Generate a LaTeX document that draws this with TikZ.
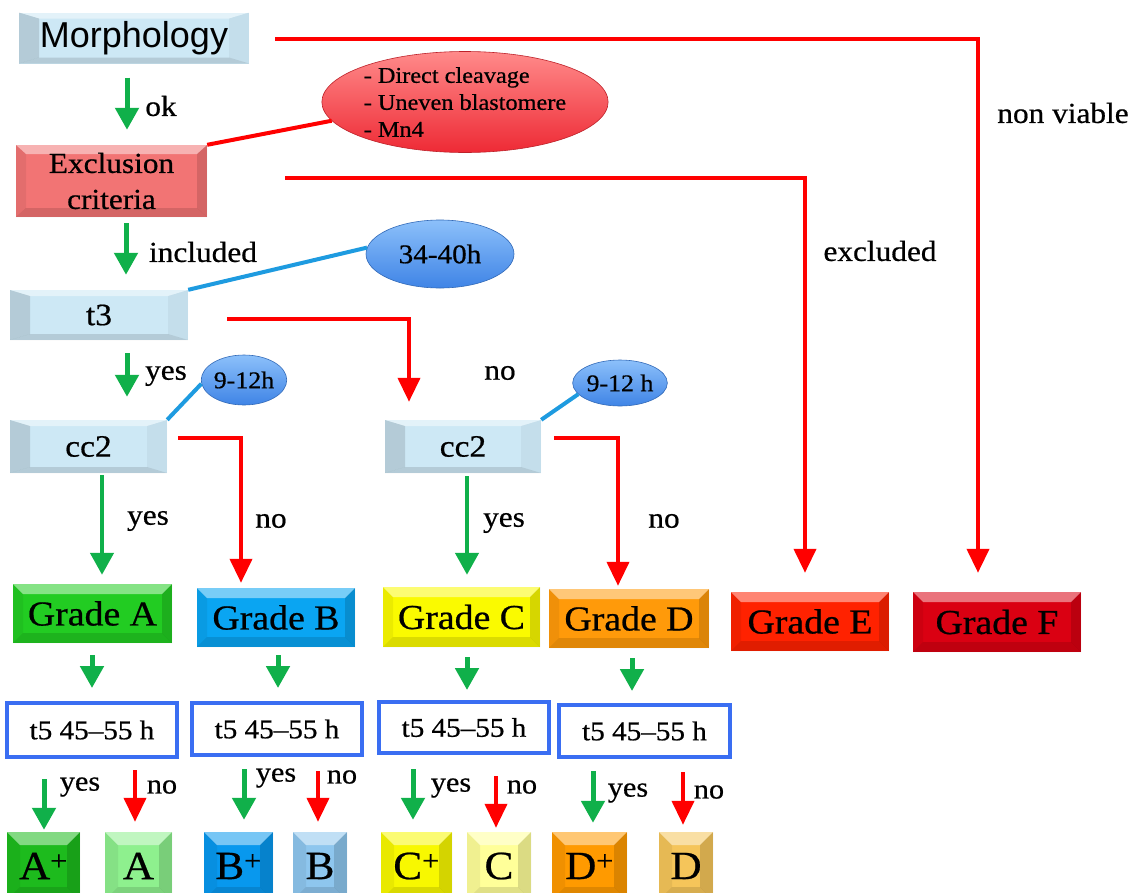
\documentclass[tikz,border=0pt]{standalone}
\usepackage{fontspec}
\setmainfont{Liberation Serif}[FakeStretch=1.08,FakeBold=0.6]
\newfontfamily\sansf{Liberation Sans}
\usetikzlibrary{arrows.meta,shapes.geometric}
\definecolor{lblue}{HTML}{CDE8F5}
\definecolor{exclred}{HTML}{F27474}
\definecolor{cA}{HTML}{22CC22}
\definecolor{cB}{HTML}{0AA5F2}
\definecolor{cC}{HTML}{FAFA00}
\definecolor{cD}{HTML}{FF9A0A}
\definecolor{cE}{HTML}{FF2200}
\definecolor{cF}{HTML}{DA0012}
\definecolor{cAp}{HTML}{1DBB1D}
\definecolor{cAm}{HTML}{8EF08E}
\definecolor{cBp}{HTML}{0898EE}
\definecolor{cBm}{HTML}{8EC6EE}
\definecolor{cCp}{HTML}{F8F800}
\definecolor{cCm}{HTML}{FFFF99}
\definecolor{cDp}{HTML}{FF9A00}
\definecolor{cDm}{HTML}{F5C55A}
\definecolor{garr}{HTML}{10B04A}
\definecolor{rarr}{HTML}{FF0000}
\definecolor{bline}{HTML}{1E9BE0}
\definecolor{t5border}{HTML}{3A6EF2}
\definecolor{ellredtop}{HTML}{FF8A8A}
\definecolor{ellredbot}{HTML}{EE2A35}
\definecolor{ellbluetop}{HTML}{8CC0FA}
\definecolor{ellbluebot}{HTML}{3F84E6}
\tikzset{
  bevel/.style n args={4}{path picture={
    \path (path picture bounding box.north west) coordinate (bvnw)
          (path picture bounding box.north east) coordinate (bvne)
          (path picture bounding box.south west) coordinate (bvsw)
          (path picture bounding box.south east) coordinate (bvse);
    \fill[white,opacity=.45] (bvnw) -- (bvne) -- ([shift={(-#1,-#2)}]bvne) -- ([shift={(#1,-#2)}]bvnw) -- cycle;
    \fill[black,opacity=#3] (bvnw) -- (bvsw) -- ([shift={(#1,#2)}]bvsw) -- ([shift={(#1,-#2)}]bvnw) -- cycle;
    \fill[black,opacity=#4] (bvne) -- (bvse) -- ([shift={(-#1,#2)}]bvse) -- ([shift={(-#1,-#2)}]bvne) -- cycle;
    \fill[black,opacity=.12] (bvsw) -- (bvse) -- ([shift={(-#1,#2)}]bvse) -- ([shift={(#1,#2)}]bvsw) -- cycle;
  }},
  lbbox/.style={fill=lblue, bevel={20pt}{6pt}{.12}{.04}, inner sep=0pt, text=black,
    font=\fontsize{31}{34}\selectfont},
  grade/.style={bevel={10pt}{10pt}{.06}{.14}, inner sep=0pt, text=black,
    font=\fontsize{35}{38}\selectfont},
  small/.style={bevel={13pt}{13pt}{.06}{.14}, inner sep=0pt, text=black, minimum height=68pt,
    font=\fontsize{40}{42}\selectfont},
  t5box/.style={draw=t5border, line width=4pt, fill=white, inner sep=0pt,
    font=\fontsize{27}{29}\selectfont},
  lbl/.style={inner sep=0pt, text=black, font=\fontsize{29}{31}\selectfont},
  slbl/.style={inner sep=0pt, text=black, font=\fontsize{28}{30}\selectfont},
  garrow/.style={draw=garr, line width=5pt, -{Triangle[width=23pt,length=22pt]}},
  rline/.style={draw=rarr, line width=4pt, line join=miter},
  rarrow/.style={rline, -{Triangle[width=22pt,length=24pt]}},
  bconn/.style={draw=bline, line width=4pt},
}
\begin{document}
\begin{tikzpicture}[x=1pt,y=-1pt]
\useasboundingbox (0,0) rectangle (1140,892);
\fill[white] (0,0) rectangle (1140,892);
\clip (0,0) rectangle (1140,892);

% main boxes
\node[lbbox, minimum width=230pt, minimum height=51pt, font=\sansf\fontsize{36}{38}\selectfont] (morph) at (134,38) {Morphology};
\node[fill=exclred, bevel={10pt}{9pt}{.06}{.12}, minimum width=191pt, minimum height=72pt, inner sep=0pt, align=center, font=\fontsize{29}{36}\selectfont] (excl) at (111.5,181) {Exclusion\\criteria};
\node[lbbox, minimum width=178pt, minimum height=50pt] (t3) at (99,315) {t3};
\node[lbbox, minimum width=157pt, minimum height=53pt] (cc2L) at (88.5,446.5) {cc2};
\node[lbbox, minimum width=156pt, minimum height=53pt] (cc2R) at (463,446.5) {cc2};

% ellipses
\node[ellipse, draw=ellredbot!80!black, line width=0.6pt, top color=ellredtop, bottom color=ellredbot, minimum width=256pt, minimum height=101pt, inner sep=0pt, align=left, font=\fontsize{22.5}{27}\selectfont] (crit) at (465,102) {- Direct cleavage\\- Uneven blastomere\\- Mn4};
\node[ellipse, draw=ellbluebot!80!black, line width=0.6pt, top color=ellbluetop, bottom color=ellbluebot, minimum width=148pt, minimum height=68pt, inner sep=0pt, font=\fontsize{27}{29}\selectfont] (e3440) at (440,254) {34-40h};
\node[ellipse, draw=ellbluebot!80!black, line width=0.6pt, top color=ellbluetop, bottom color=ellbluebot, minimum width=81pt, minimum height=50pt, inner sep=0pt, font=\fontsize{24}{26}\selectfont] (eL) at (244,380) {9-12h};
\node[ellipse, draw=ellbluebot!80!black, line width=0.6pt, top color=ellbluetop, bottom color=ellbluebot, minimum width=84pt, minimum height=46pt, inner sep=0pt, font=\fontsize{24}{26}\selectfont] (eR) at (620,383) {9-12 h};

% grade boxes
\node[grade, fill=cA, minimum width=159pt, minimum height=59pt] (gA) at (92.5,613.5) {Grade A};
\node[grade, fill=cB, minimum width=158pt, minimum height=59pt] (gB) at (276,617.5) {Grade B};
\node[grade, fill=cC, minimum width=157pt, minimum height=60pt] (gC) at (461.5,617) {Grade C};
\node[grade, fill=cD, minimum width=160pt, minimum height=59pt] (gD) at (629,618.5) {Grade D};
\node[grade, fill=cE, minimum width=158pt, minimum height=59pt] (gE) at (810,621.5) {Grade E};
\node[grade, fill=cF, minimum width=168pt, minimum height=60pt] (gF) at (997,622) {Grade F};

% t5 boxes
\node[t5box, minimum width=170pt, minimum height=54pt] (t5A) at (92,730) {t5 45--55 h};
\node[t5box, minimum width=170pt, minimum height=52pt] (t5B) at (277,729) {t5 45--55 h};
\node[t5box, minimum width=170pt, minimum height=51pt] (t5C) at (464,727.5) {t5 45--55 h};
\node[t5box, minimum width=171pt, minimum height=52pt] (t5D) at (644.5,731) {t5 45--55 h};

% bottom boxes
\node[small, fill=cAp, minimum width=73pt] (Ap) at (43.5,866) {A\textsuperscript{+}};
\node[small, fill=cAm, minimum width=67pt] (Am) at (138.5,866) {A};
\node[small, fill=cBp, minimum width=69pt] (Bp) at (238.5,866) {B\textsuperscript{+}};
\node[small, fill=cBm, minimum width=54pt] (Bm) at (320,866) {B};
\node[small, fill=cCp, minimum width=71pt] (Cp) at (416.5,866) {C\textsuperscript{+}};
\node[small, fill=cCm, minimum width=64pt] (Cm) at (499,866) {C};
\node[small, fill=cDp, minimum width=75pt] (Dp) at (589.5,866) {D\textsuperscript{+}};
\node[small, fill=cDm, minimum width=54pt] (Dm) at (686,866) {D};

% labels
\node[lbl] (lok) at (161,106) {ok};
\node[lbl] (linc) at (203,252) {included};
\node[lbl] (lyes1) at (166,376) {yes};
\node[lbl] (lno1) at (500,373) {no};
\node[lbl] (lyes2) at (148,521) {yes};
\node[lbl] (lno2) at (271,521) {no};
\node[lbl] (lyes3) at (504,523) {yes};
\node[lbl] (lno3) at (664,521) {no};
\node[lbl] (lexc) at (880,251) {excluded};
\node[lbl] (lnv) at (1063,113) {non viable};
\node[slbl] (lAy) at (80,787) {yes};
\node[slbl] (lAn) at (162,787) {no};
\node[slbl] (lBy) at (276,778) {yes};
\node[slbl] (lBn) at (342,777) {no};
\node[slbl] (lCy) at (451,788) {yes};
\node[slbl] (lCn) at (522,787) {no};
\node[slbl] (lDy) at (628,793) {yes};
\node[slbl] (lDn) at (709,792) {no};

% red long connectors
\draw[rarrow] ([xshift=26pt,yshift=-1pt]morph.east) -| ([xshift=-19pt,yshift=19pt]gF.north);
\draw[rarrow] ([xshift=78pt,yshift=3pt]excl.east) -| ([xshift=-5pt,yshift=19pt]gE.north);
\draw[rline] (excl.north east) -- (crit.188);
\draw[rarrow] ([xshift=39pt,yshift=-4pt]t3.east) -| ([xshift=-54pt,yshift=18pt]cc2R.north);
\draw[rarrow] ([xshift=11pt,yshift=8.5pt]cc2L.east) -| ([xshift=-35pt,yshift=5pt]gB.north);
\draw[rarrow] ([xshift=13pt,yshift=8.5pt]cc2R.east) -| ([xshift=-11pt,yshift=3pt]gD.north);

% blue connectors
\draw[bconn] (t3.north east) -- (e3440.175);
\draw[bconn] (cc2L.north east) -- (eL.185);
\draw[bconn] (cc2R.north east) -- (eR.195);

% green arrows
\draw[garrow] ([xshift=-7pt,yshift=-14pt]morph.south) -- ([xshift=15.5pt,yshift=15pt]excl.north);
\draw[garrow] ([xshift=14.5pt,yshift=-6pt]excl.south) -- ([xshift=27pt,yshift=15pt]t3.north);
\draw[garrow] ([xshift=28pt,yshift=-13pt]t3.south) -- ([xshift=38.5pt,yshift=23pt]cc2L.north);
\draw[garrow, line width=4.5pt] ([xshift=13.5pt,yshift=-2pt]cc2L.south) -- ([xshift=9.5pt,yshift=9pt]gA.north);
\draw[garrow, line width=4.5pt] ([xshift=4pt,yshift=-3pt]cc2R.south) -- ([xshift=5.5pt,yshift=12pt]gC.north);

\draw[garrow] ([xshift=-0.5pt,yshift=-12pt]gA.south) -- ([yshift=13pt]t5A.north);
\draw[garrow] ([xshift=2pt,yshift=-8pt]gB.south) -- ([xshift=1pt,yshift=13pt]t5B.north);
\draw[garrow] ([xshift=5.5pt,yshift=-10pt]gC.south) -- ([xshift=3pt,yshift=10pt]t5C.north);
\draw[garrow] ([xshift=3pt,yshift=-10pt]gD.south) -- ([xshift=-12.5pt,yshift=12pt]t5D.north);

% bottom yes/no
\draw[garrow] ([xshift=-48pt,yshift=-20pt]t5A.south) -- ([xshift=0.5pt,yshift=2pt]Ap.north);
\draw[rarrow] ([xshift=43pt,yshift=-11pt]t5A.south) -- ([xshift=-3.5pt,yshift=10pt]Am.north);
\draw[garrow] ([xshift=-33pt,yshift=-12pt]t5B.south) -- ([xshift=5.5pt,yshift=12pt]Bp.north);
\draw[rarrow] ([xshift=41pt,yshift=-14pt]t5B.south) -- ([xshift=-2pt,yshift=10pt]Bm.north);
\draw[garrow] ([xshift=-51pt,yshift=-14pt]t5C.south) -- ([xshift=-3.5pt,yshift=12pt]Cp.north);
\draw[rarrow] ([xshift=32pt,yshift=-21pt]t5C.south) -- ([xshift=-3pt,yshift=4pt]Cm.north);
\draw[garrow] ([xshift=-51.5pt,yshift=-12pt]t5D.south) -- ([xshift=3.5pt,yshift=9pt]Dp.north);
\draw[rarrow] ([xshift=38.5pt,yshift=-13pt]t5D.south) -- ([xshift=-3pt,yshift=7pt]Dm.north);
\end{tikzpicture}
\end{document}
